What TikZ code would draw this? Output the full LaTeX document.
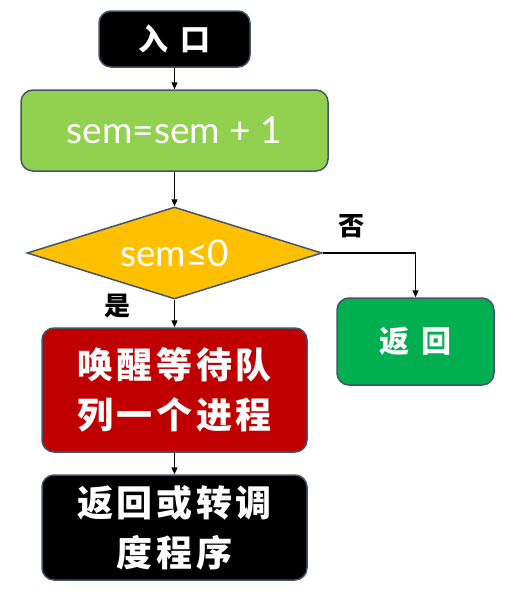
\documentclass[tikz,border=0pt]{standalone}
\usepackage{fontspec}
\setmainfont{Lato}
\newfontfamily\cjk[LetterSpace=10]{Noto Sans CJK SC}
\newfontfamily\cjkwide[LetterSpace=40]{Noto Sans CJK SC}
\usetikzlibrary{shapes.geometric, arrows.meta}
\definecolor{boxedge}{RGB}{68,84,106}
\definecolor{calcgreen}{RGB}{146,208,80}
\definecolor{retgreen}{RGB}{0,176,80}
\definecolor{condgold}{RGB}{255,192,0}
\definecolor{wakered}{RGB}{192,0,0}

\begin{document}
\begin{tikzpicture}[x=1pt,y=1pt,yscale=-1,xscale=1,
    box/.style={draw=boxedge, line width=1.5pt, rounded corners=12pt, inner sep=0pt, align=center, text=white},
    cjkbig/.style={font=\cjk\bfseries\fontsize{36}{50}\selectfont},
    cjkspread/.style={font=\cjkwide\bfseries\fontsize{30}{36}\selectfont},
    latinbig/.style={font=\fontsize{37}{40}\selectfont},
    flow/.style={-{Triangle[length=7pt,width=6pt]}, line width=1.3pt}]
    \useasboundingbox (0,0) rectangle (509,592);

    %Shape: Rounded Rectangle
    \node (entry) [box, fill=black, cjkspread, minimum width=151pt, minimum height=56pt] at (174.5,39) {入口};
    %Shape: Rounded Rectangle
    \node (calc) [box, fill=calcgreen, latinbig, minimum width=307pt, minimum height=81pt] at (174.5,130.5) {sem=sem + 1};
    %Shape: Diamond
    \node (cond) [draw=boxedge, line width=1.5pt, fill=condgold, text=white, latinbig, shape=diamond, aspect=3.2, inner sep=0pt, minimum width=295pt, minimum height=92pt] at (174.5,253) {sem≤0};
    %Shape: Rounded Rectangle
    \node (ret) [box, fill=retgreen, cjkspread, minimum width=157pt, minimum height=87pt] at (415.5,341.5) {返回};
    %Shape: Rounded Rectangle
    \node (wake) [box, fill=wakered, cjkbig, minimum width=265pt, minimum height=124pt] at (174.5,390) {唤醒等待队\\列一个进程};
    %Shape: Rounded Rectangle
    \node (sched) [box, fill=black, cjkbig, minimum width=265pt, minimum height=105pt] at (174.5,527.5) {返回或转调\\度程序};

    %Straight Lines
    \draw [flow] (entry) -- (calc);
    \draw [flow] (calc) -- (cond);
    \draw [flow] (cond.east) -| (ret.north);
    \draw [flow] (cond.south) -- (wake.north);
    \draw [flow] (wake) -- (sched);

    % Text Node
    \node (no) [font=\cjk\bfseries\fontsize{26}{30}\selectfont] at (351,226) {否};
    % Text Node
    \node (yes) [font=\cjk\bfseries\fontsize{26}{30}\selectfont] at (117,306) {是};
\end{tikzpicture}
\end{document}
